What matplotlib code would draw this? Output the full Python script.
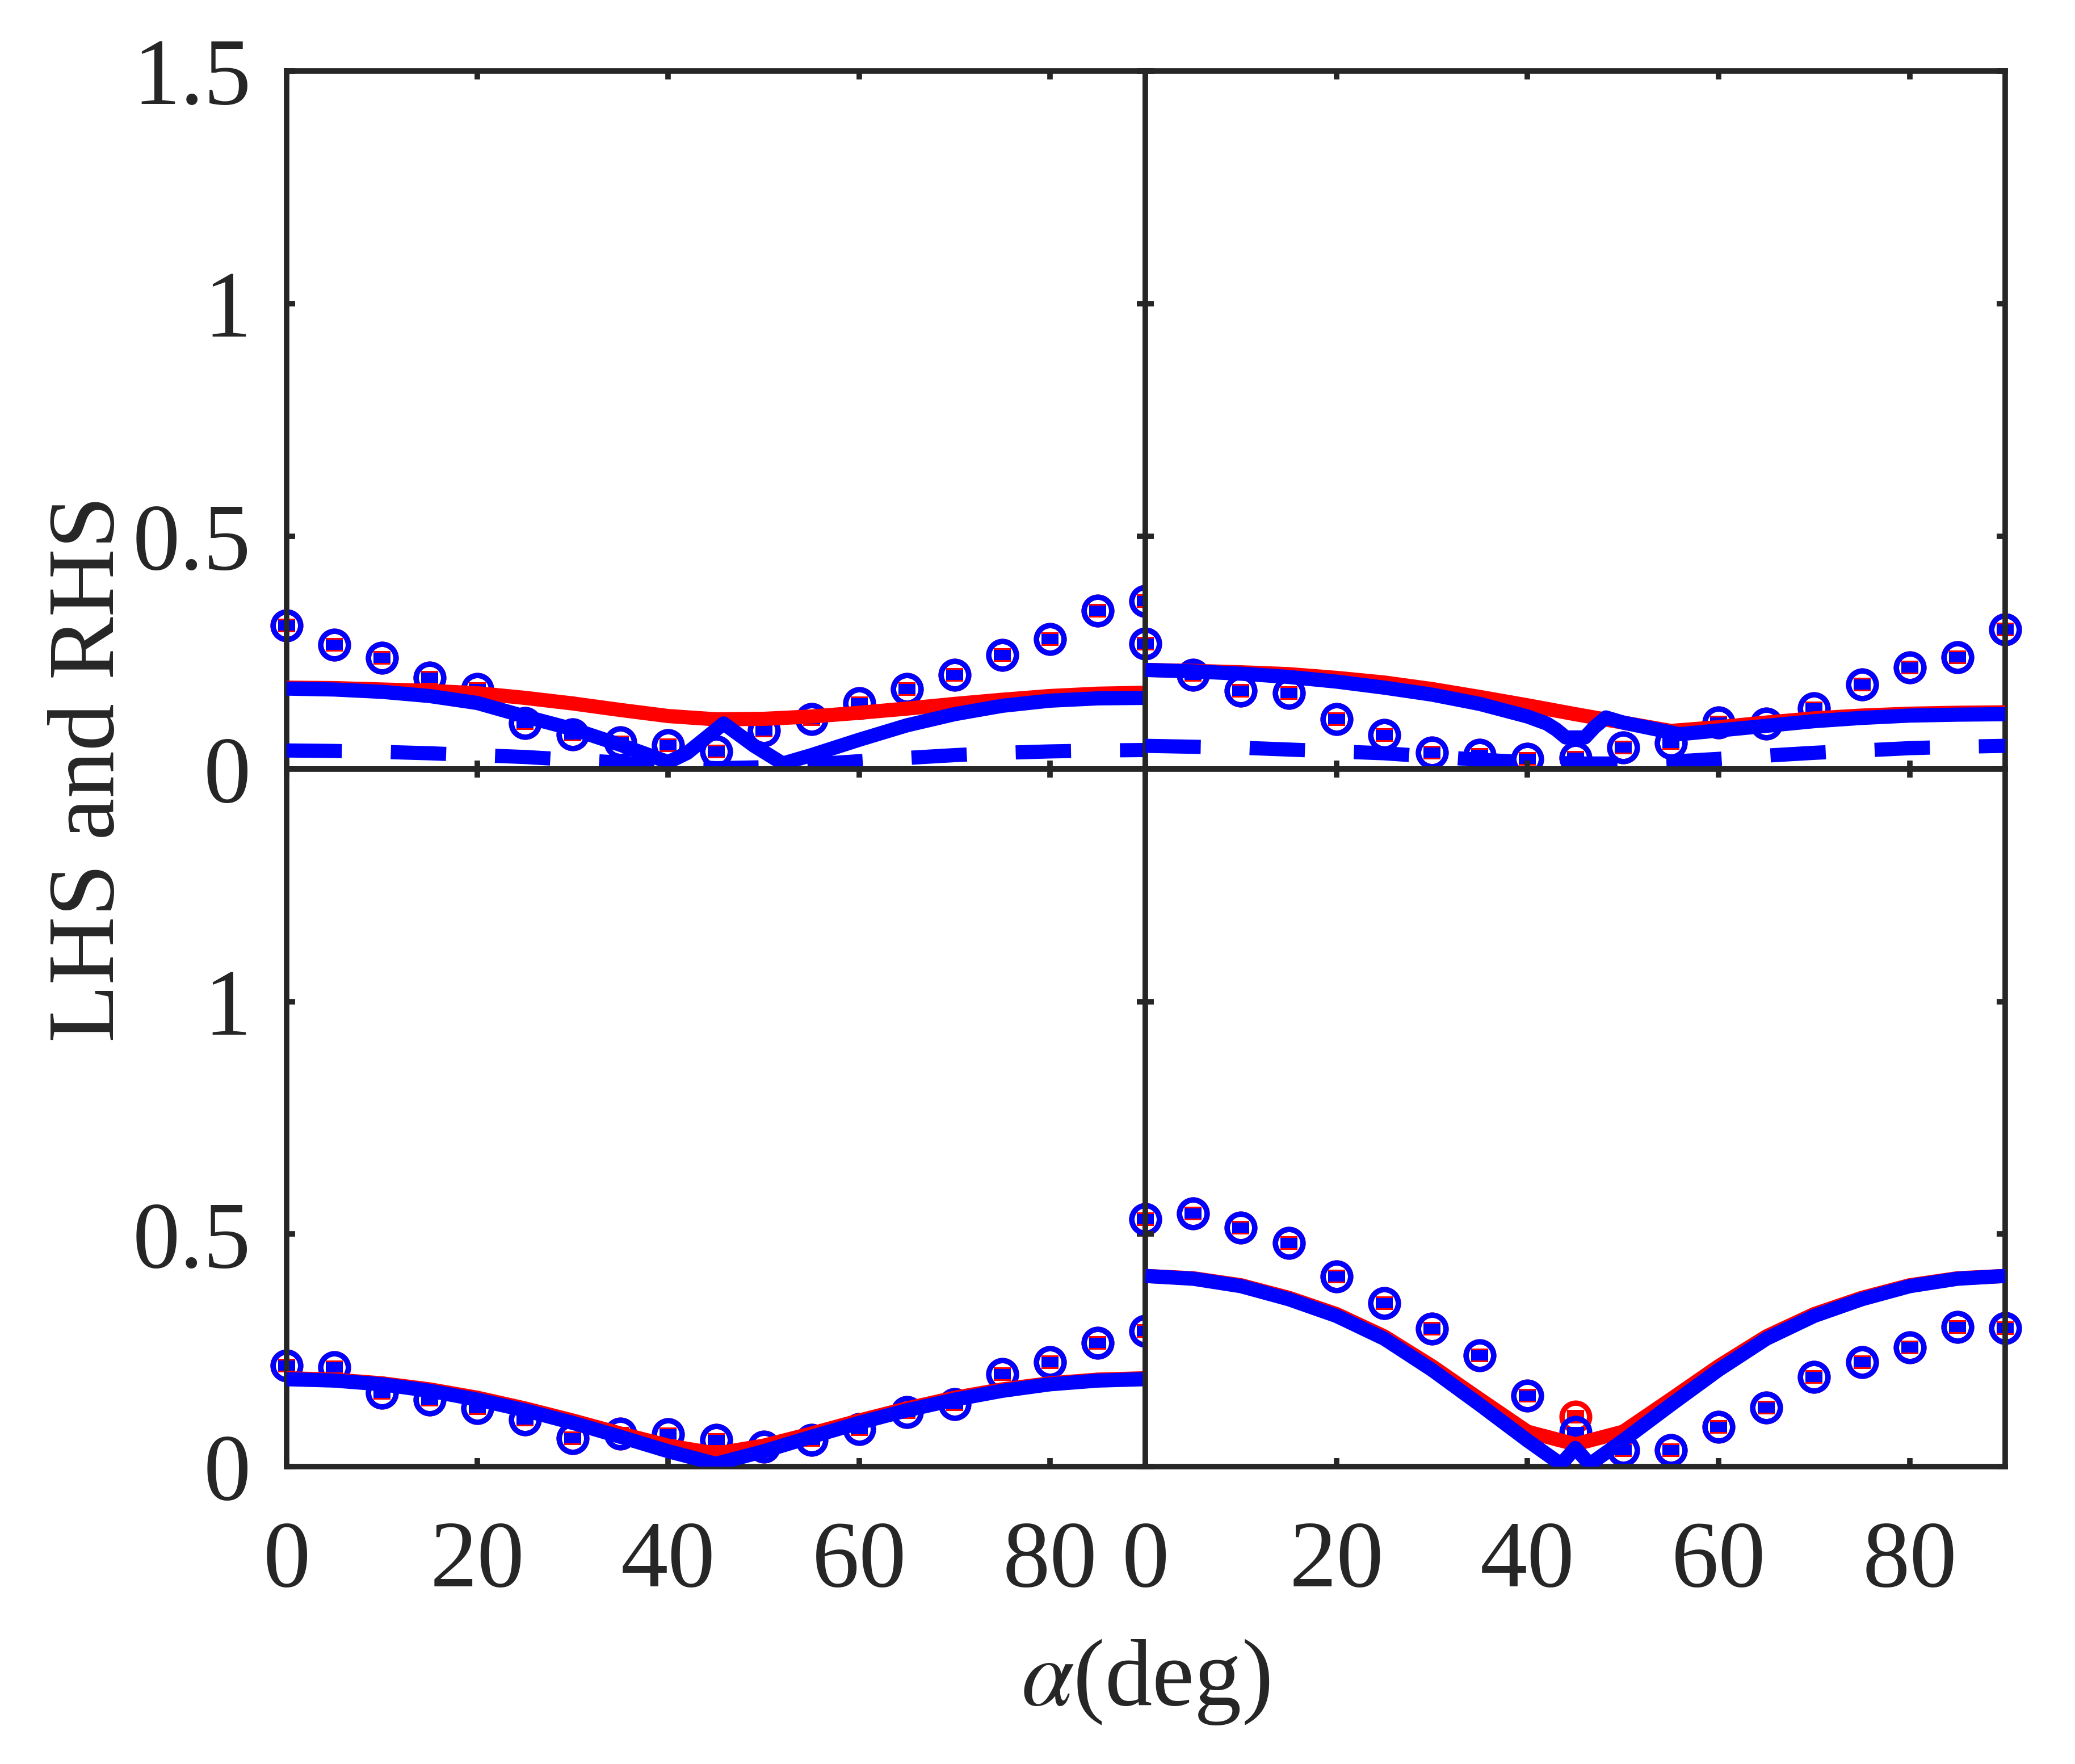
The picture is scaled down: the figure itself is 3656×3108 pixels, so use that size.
import matplotlib.pyplot as plt
import numpy as np

plt.rcParams['font.family'] = ['Liberation Serif', 'DejaVu Serif']
plt.rcParams['mathtext.fontset'] = 'stix'

INK = '#262626'

# measured points, every 5 deg
alpha_pts = [0, 5, 10, 15, 20, 25, 30, 35, 40, 45, 50, 55, 60, 65, 70, 75, 80, 85, 90]

# top-left panel
tl_pts = [0.308, 0.267, 0.239, 0.196, 0.172, 0.099, 0.075, 0.058, 0.051, 0.038,
          0.083, 0.107, 0.142, 0.172, 0.202, 0.245, 0.279, 0.34, 0.361]
tl_red = [0.175, 0.174, 0.171, 0.168, 0.163, 0.153, 0.141, 0.127, 0.114, 0.107,
          0.108, 0.113, 0.121, 0.13, 0.14, 0.149, 0.157, 0.162, 0.164]
tl_blue_x = [0, 5, 10, 15, 20, 25, 30, 35, 38, 40, 42, 45.8, 49, 52, 55, 60, 65,
             70, 75, 80, 85, 90]
tl_blue = [0.173, 0.171, 0.166, 0.157, 0.142, 0.113, 0.086, 0.052, 0.03, 0.015,
           0.035, 0.098, 0.05, 0.012, 0.03, 0.063, 0.094, 0.118, 0.136, 0.147,
           0.152, 0.153]
tl_dash = [0.04, 0.039, 0.037, 0.034, 0.03, 0.026, 0.02, 0.014, 0.007, 0.002,
           0.004, 0.01, 0.017, 0.024, 0.03, 0.035, 0.038, 0.04, 0.041]

# top-right panel
tr_pts = [0.27, 0.203, 0.168, 0.164, 0.107, 0.073, 0.036, 0.03, 0.022, 0.025,
          0.046, 0.056, 0.1, 0.098, 0.13, 0.182, 0.218, 0.24, 0.30]
tr_red = [0.213, 0.211, 0.208, 0.204, 0.196, 0.186, 0.172, 0.155, 0.137, 0.118,
          0.1, 0.082, 0.09, 0.1, 0.109, 0.115, 0.119, 0.121, 0.122]
tr_blue_x = [0, 5, 10, 15, 20, 25, 30, 35, 40, 42, 43, 44, 46, 47, 48.2, 50, 55.9,
             60, 65, 70, 75, 80, 85, 90]
tr_blue = [0.213, 0.21, 0.205, 0.198, 0.188, 0.175, 0.16, 0.14, 0.113, 0.098, 0.085,
           0.068, 0.068, 0.09, 0.111, 0.1, 0.075, 0.083, 0.093, 0.103, 0.11, 0.115,
           0.117, 0.118]
tr_dash = [0.05, 0.048, 0.046, 0.042, 0.038, 0.034, 0.027, 0.02, 0.015, 0.012,
           0.012, 0.016, 0.022, 0.029, 0.035, 0.04, 0.045, 0.048, 0.05]

# bottom-left panel
bl_pts = [0.217, 0.214, 0.159, 0.144, 0.126, 0.101, 0.061, 0.071, 0.069, 0.057,
          0.043, 0.057, 0.081, 0.117, 0.134, 0.199, 0.225, 0.266, 0.292]
bl_red = [0.19, 0.187, 0.179, 0.166, 0.148, 0.125, 0.099, 0.071, 0.045, 0.028,
          0.045, 0.071, 0.099, 0.125, 0.148, 0.166, 0.179, 0.187, 0.19]
bl_blue = [0.188, 0.185, 0.177, 0.163, 0.144, 0.121, 0.094, 0.064, 0.033, 0.006,
           0.033, 0.064, 0.094, 0.121, 0.144, 0.163, 0.177, 0.185, 0.188]

# bottom-right panel
br_pts = [0.532, 0.544, 0.514, 0.481, 0.409, 0.351, 0.297, 0.239, 0.153, 0.074,
          0.035, 0.035, 0.086, 0.127, 0.193, 0.225, 0.256, 0.30, 0.298]
br_red_pts = list(br_pts)
br_red_pts[9] = 0.107
br_red = [0.41, 0.405, 0.39, 0.363, 0.328, 0.28, 0.216, 0.145, 0.075, 0.048,
          0.075, 0.145, 0.216, 0.28, 0.328, 0.363, 0.39, 0.405, 0.41]
br_blue_x = [0, 5, 10, 15, 20, 25, 30, 35, 40, 43.5, 45, 46.5, 50, 55, 60, 65, 70, 75, 80, 85, 90]
br_blue = [0.41, 0.404, 0.388, 0.36, 0.324, 0.275, 0.208, 0.133, 0.056, 0.005, 0.04,
           0.005, 0.056, 0.133, 0.208, 0.275, 0.324, 0.36, 0.388, 0.404, 0.41]

rect_red = [(-1, -0.77), (1, -0.77), (1, 0.77), (-1, 0.77)]
rect_blue = [(-1, -0.58), (1, -0.58), (1, 0.58), (-1, 0.58)]

LW = 18


def draw_markers(ax, red_y, blue_y):
    for y, c, rect in [(red_y, 'red', rect_red), (blue_y, 'blue', rect_blue)]:
        ax.plot(alpha_pts, y, ls='none', marker='o', ms=35, mfc='none', mec=c,
                mew=6.8, clip_on=False, zorder=1)
        ax.plot(alpha_pts, y, ls='none', marker=rect, ms=22, mfc=c, mew=0,
                clip_on=False, zorder=1)


def draw_lines(ax, red_x, red_y, blue_x, blue_y, dash_y=None):
    ax.plot(red_x, red_y, color='red', lw=LW, solid_capstyle='butt',
            solid_joinstyle='round', zorder=3)
    ax.plot(blue_x, blue_y, color='blue', lw=LW, solid_capstyle='butt',
            solid_joinstyle='round', zorder=4)
    if dash_y is not None:
        ax.plot(alpha_pts, dash_y, color='blue', lw=LW, dashes=(3.9, 3.45),
                dash_capstyle='butt', zorder=4)


fig = plt.figure(figsize=(36.56, 31.08), dpi=100)

x0, xm, x1 = 0.1381, 0.552, 0.9664
y0, ym, y1 = 0.1686, 0.5640, 0.9598

ax_tl = fig.add_axes([x0, ym, xm - x0, y1 - ym])
ax_tr = fig.add_axes([xm, ym, x1 - xm, y1 - ym])
ax_bl = fig.add_axes([x0, y0, xm - x0, ym - y0])
ax_br = fig.add_axes([xm, y0, x1 - xm, ym - y0])

draw_markers(ax_tl, tl_pts, tl_pts)
draw_lines(ax_tl, alpha_pts, tl_red, tl_blue_x, tl_blue, tl_dash)

draw_markers(ax_tr, tr_pts, tr_pts)
draw_lines(ax_tr, alpha_pts, tr_red, tr_blue_x, tr_blue, tr_dash)

draw_markers(ax_bl, bl_pts, bl_pts)
draw_lines(ax_bl, alpha_pts, bl_red, alpha_pts, bl_blue)

draw_markers(ax_br, br_red_pts, br_pts)
draw_lines(ax_br, alpha_pts, br_red, br_blue_x, br_blue)

for ax in [ax_tl, ax_tr, ax_bl, ax_br]:
    ax.set_xlim(0, 90)
    ax.set_ylim(0, 1.5)
    ax.set_xticks([0, 20, 40, 60, 80])
    for s in ax.spines.values():
        s.set_linewidth(7)
        s.set_color(INK)
    ax.tick_params(direction='in', length=10.8, width=7, top=True, right=True,
                   colors=INK, labelsize=120)
    ax.tick_params(axis='x', pad=68)
    ax.tick_params(axis='y', pad=45)

ax_tl.set_yticks([0, 0.5, 1, 1.5])
ax_tl.set_yticklabels(['0', '0.5', '1', '1.5'])
ax_tr.set_yticks([0, 0.5, 1, 1.5])
ax_bl.set_yticks([0, 0.5, 1])
ax_bl.set_yticklabels(['0', '0.5', '1'])
ax_br.set_yticks([0, 0.5, 1])

ax_tl.tick_params(labelbottom=False)
ax_tr.tick_params(labelbottom=False, labelleft=False)
ax_br.tick_params(labelleft=False)

fig.text(0.0438, 0.564, 'LHS and RHS', rotation=90, ha='center', va='center',
         fontsize=120, color=INK)
fig.text(0.552, 0.0335, r'$\alpha$(deg)', ha='center', va='baseline',
         fontsize=120, color=INK)

fig.savefig('out.png', dpi=100)
